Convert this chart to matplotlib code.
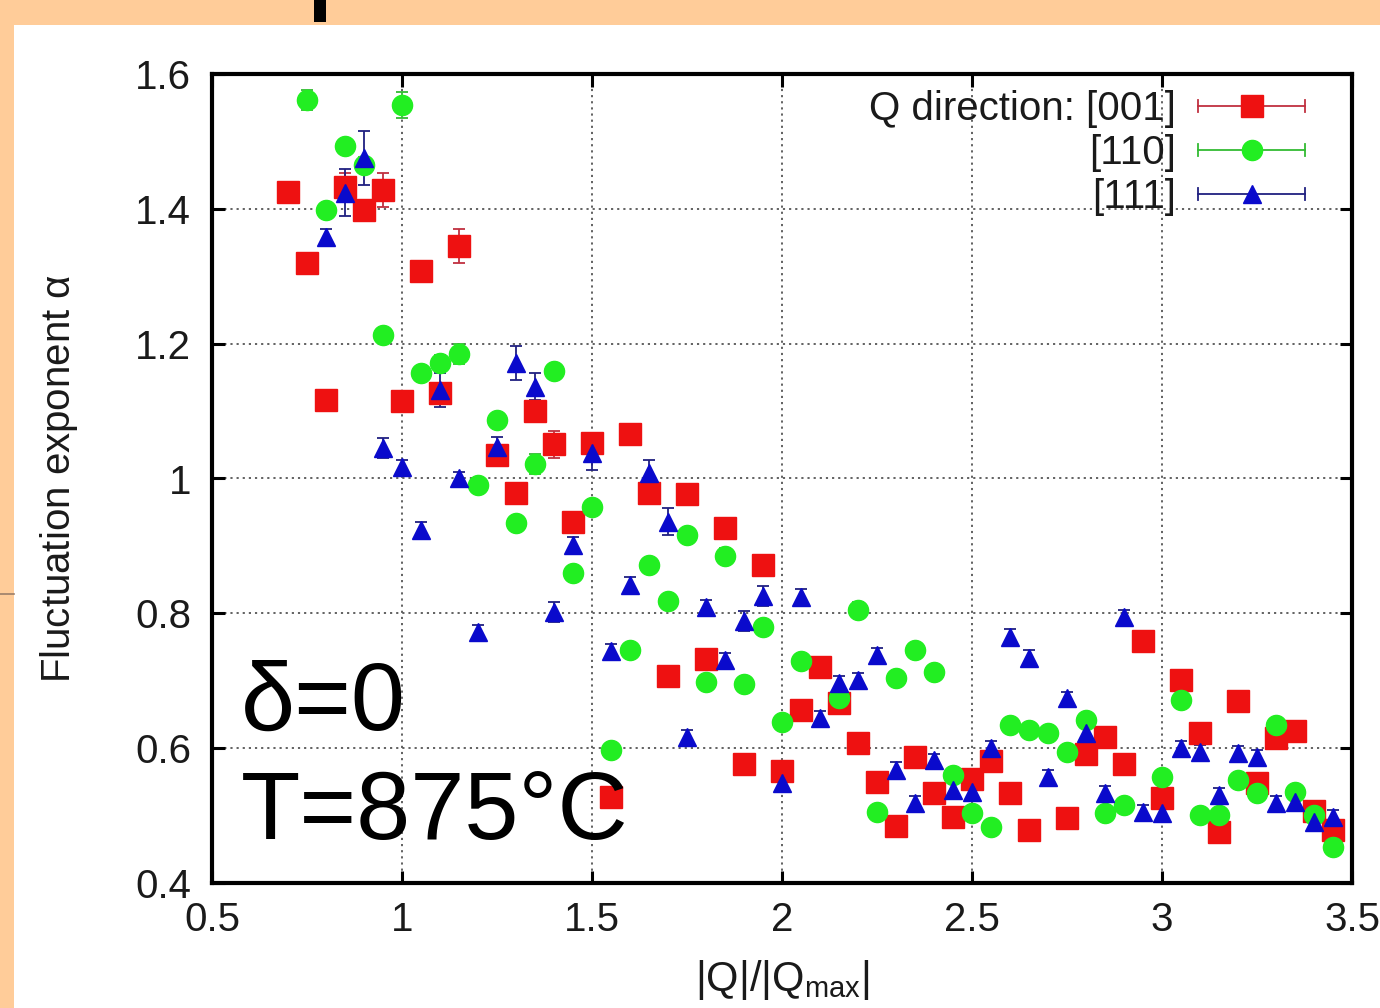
import matplotlib
matplotlib.use("Agg")
import matplotlib.pyplot as plt
from matplotlib.lines import Line2D
from matplotlib.patches import Rectangle
from matplotlib.legend_handler import HandlerBase

plt.rcParams['font.family'] = ['Liberation Sans', 'DejaVu Sans']
plt.rcParams['mathtext.fontset'] = 'custom'
plt.rcParams['mathtext.rm'] = 'Liberation Sans'
plt.rcParams['mathtext.it'] = 'Liberation Sans'

# ---------------- data ----------------
x_001 = [0.70, 0.75, 0.80, 0.85, 0.90, 0.95, 1.00, 1.05, 1.10, 1.15,
         1.25, 1.30, 1.35, 1.40, 1.45, 1.50, 1.55, 1.60, 1.65, 1.70,
         1.75, 1.80, 1.85, 1.90, 1.95, 2.00, 2.05, 2.10, 2.15, 2.20,
         2.25, 2.30, 2.35, 2.40, 2.45, 2.50, 2.55, 2.60, 2.65,
         2.75, 2.80, 2.85, 2.90, 2.95, 3.00, 3.05, 3.10, 3.15, 3.20,
         3.25, 3.30, 3.35, 3.40, 3.45]
y_001 = [1.425, 1.32, 1.117, 1.433, 1.398, 1.428, 1.115, 1.308, 1.127, 1.345,
         1.035, 0.979, 1.10, 1.051, 0.936, 1.053, 0.528, 1.066, 0.979, 0.707,
         0.977, 0.732, 0.927, 0.577, 0.872, 0.566, 0.657, 0.72, 0.667, 0.608,
         0.55, 0.485, 0.587, 0.534, 0.498, 0.554, 0.581, 0.534, 0.479,
         0.496, 0.591, 0.617, 0.577, 0.759, 0.526, 0.701, 0.623, 0.476, 0.67,
         0.548, 0.615, 0.625, 0.507, 0.479]
e_001 = [0.012, 0.010, 0.012, 0.020, 0.012, 0.025, 0.012, 0.015, 0.015, 0.025,
         0.015, 0.012, 0.015, 0.020, 0.012, 0.015, 0.010, 0.012, 0.015, 0.010,
         0.012, 0.012, 0.012, 0.010, 0.012, 0.012, 0.012, 0.012, 0.012, 0.010,
         0.010, 0.010, 0.010, 0.010, 0.010, 0.010, 0.010, 0.010, 0.010,
         0.010, 0.010, 0.010, 0.010, 0.010, 0.010, 0.010, 0.010, 0.010, 0.010,
         0.010, 0.010, 0.010, 0.010, 0.010]

x_110 = [0.75, 0.80, 0.85, 0.90, 0.95, 1.00, 1.05, 1.10, 1.15, 1.20,
         1.25, 1.30, 1.35, 1.40, 1.45, 1.50, 1.55, 1.60, 1.65, 1.70,
         1.75, 1.80, 1.85, 1.90, 1.95, 2.00, 2.05,
         2.15, 2.20, 2.25, 2.30, 2.35, 2.40, 2.45, 2.50, 2.55, 2.60,
         2.65, 2.70, 2.75, 2.80, 2.85, 2.90,
         3.00, 3.05, 3.10, 3.15, 3.20, 3.25, 3.30, 3.35, 3.40, 3.45]
y_110 = [1.562, 1.398, 1.493, 1.465, 1.213, 1.554, 1.157, 1.171, 1.185, 0.991,
         1.087, 0.934, 1.022, 1.16, 0.86, 0.958, 0.597, 0.746, 0.872, 0.818,
         0.916, 0.698, 0.885, 0.695, 0.78, 0.639, 0.73,
         0.675, 0.805, 0.505, 0.704, 0.746, 0.713, 0.56, 0.504, 0.483, 0.634,
         0.627, 0.622, 0.594, 0.642, 0.504, 0.516,
         0.557, 0.671, 0.501, 0.501, 0.553, 0.534, 0.634, 0.535, 0.501, 0.453]
e_110 = [0.015, 0.010, 0.010, 0.012, 0.010, 0.020, 0.010, 0.012, 0.015, 0.010,
         0.010, 0.010, 0.015, 0.010, 0.010, 0.010, 0.008, 0.008, 0.010, 0.008,
         0.010, 0.008, 0.012, 0.008, 0.010, 0.008, 0.008,
         0.008, 0.012, 0.008, 0.008, 0.008, 0.008, 0.008, 0.008, 0.008, 0.008,
         0.008, 0.008, 0.008, 0.008, 0.008, 0.008,
         0.008, 0.008, 0.008, 0.008, 0.008, 0.008, 0.008, 0.008, 0.008, 0.008]

x_111 = [0.80, 0.85, 0.90, 0.95, 1.00, 1.05, 1.10, 1.15, 1.20, 1.25,
         1.30, 1.35, 1.40, 1.45, 1.50, 1.55, 1.60, 1.65, 1.70, 1.75,
         1.80, 1.85, 1.90, 1.95, 2.00, 2.05, 2.10, 2.15, 2.20, 2.25,
         2.30, 2.35, 2.40, 2.45, 2.50, 2.55, 2.60, 2.65, 2.70, 2.75,
         2.80, 2.85, 2.90, 2.95, 3.00, 3.05, 3.10, 3.15, 3.20, 3.25,
         3.30, 3.35, 3.40, 3.45]
y_111 = [1.358, 1.424, 1.476, 1.045, 1.017, 0.924, 1.131, 1.0, 0.772, 1.047,
         1.171, 1.136, 0.802, 0.901, 1.038, 0.744, 0.842, 1.008, 0.936, 0.617,
         0.81, 0.731, 0.789, 0.826, 0.548, 0.824, 0.645, 0.697, 0.701, 0.738,
         0.568, 0.519, 0.582, 0.538, 0.535, 0.6, 0.765, 0.734, 0.557, 0.674,
         0.623, 0.534, 0.795, 0.505, 0.504, 0.6, 0.594, 0.531, 0.593, 0.587,
         0.519, 0.52, 0.49, 0.498]
e_111 = [0.012, 0.035, 0.040, 0.015, 0.010, 0.012, 0.025, 0.010, 0.010, 0.015,
         0.025, 0.020, 0.015, 0.012, 0.025, 0.010, 0.012, 0.020, 0.020, 0.010,
         0.010, 0.010, 0.015, 0.015, 0.012, 0.012, 0.010, 0.010, 0.010, 0.010,
         0.012, 0.010, 0.010, 0.010, 0.010, 0.010, 0.012, 0.012, 0.010, 0.010,
         0.010, 0.010, 0.010, 0.010, 0.010, 0.010, 0.010, 0.010, 0.010, 0.010,
         0.010, 0.010, 0.010, 0.010]

labels = ["Q direction: [001]", "[110]", "[111]"]
x_ticks = [0.5, 1, 1.5, 2, 2.5, 3, 3.5]
x_ticklabels = ["0.5", "1", "1.5", "2", "2.5", "3", "3.5"]
y_ticks = [0.4, 0.6, 0.8, 1.0, 1.2, 1.4, 1.6]
y_ticklabels = ["0.4", "0.6", "0.8", "1", "1.2", "1.4", "1.6"]

# ---------------- style ----------------
series = [
    (x_001, y_001, e_001, 's', 16.0, '#EE1111', '#C03040'),
    (x_110, y_110, e_110, 'o', 14.5, '#22EE22', '#33BB33'),
    (x_111, y_111, e_111, '^', 13.0, '#0A0ACC', '#202080'),
]
FS = 29

fig = plt.figure(figsize=(13.8, 10.08), dpi=100)
fig.patch.set_facecolor('#FFCC99')
fig.patches.append(Rectangle((14 / 1380, 0), 1 - 14 / 1380, 1 - 25 / 1008,
                             transform=fig.transFigure, facecolor='white',
                             edgecolor='none', zorder=-10))
fig.patches.append(Rectangle((314 / 1380, 1 - 22 / 1008), 12 / 1380, 22 / 1008,
                             transform=fig.transFigure, facecolor='black',
                             edgecolor='none', zorder=-9))
fig.lines.append(Line2D([0, 14 / 1380], [1 - 594 / 1008, 1 - 594 / 1008],
                        transform=fig.transFigure, color='#9B7F6A', lw=1.2))

ax = fig.add_axes([212 / 1380, 1 - 883 / 1008, 1140 / 1380, 809 / 1008])
ax.set_facecolor('none')

for (xs, ys, es, mk, ms, c, ec) in series:
    ax.errorbar(xs, ys, yerr=es, fmt=mk, ms=ms, color=c, mec=c, ecolor=ec,
                elinewidth=1.3, capsize=4, capthick=1.3, zorder=3)

ax.set_xlim(0.5, 3.5)
ax.set_ylim(0.4, 1.6)
ax.set_xticks(x_ticks)
ax.set_xticklabels(x_ticklabels)
ax.set_yticks(y_ticks)
ax.set_yticklabels(y_ticklabels)
ax.tick_params(direction='in', length=9, width=2.2, top=True, right=True,
               labelsize=FS, labelcolor='#1a1a1a')
ax.tick_params(axis='y', pad=15)
ax.tick_params(axis='x', pad=13)
for s in ax.spines.values():
    s.set_linewidth(3)
    s.set_zorder(5)
ax.grid(True, color='#555555', linestyle=(0, (1.2, 2.2)), linewidth=1.3, zorder=0)
ax.set_axisbelow(True)

ax.set_ylabel(r'Fluctuation exponent $\alpha$', fontsize=FS, labelpad=40, color='#1a1a1a')
ax.set_xlabel(r'$\mathregular{|Q|/|Q_{max}|}$', fontsize=FS + 1, labelpad=14, color='#1a1a1a')

ax.text(0.025, 0.22, '\u03b4=0', transform=ax.transAxes, fontsize=70,
        ha='left', va='center', color='black', zorder=6)
ax.text(0.025, 0.085, 'T=875\u00b0C', transform=ax.transAxes, fontsize=70,
        ha='left', va='center', color='black', zorder=6)


class HandlerErr(HandlerBase):
    def __init__(self, marker, ms, color, ecolor):
        super().__init__()
        self.marker, self.ms, self.color, self.ecolor = marker, ms, color, ecolor

    def create_artists(self, legend, orig_handle, xdescent, ydescent, width,
                       height, fontsize, trans):
        y = height / 2 - ydescent
        x0 = -xdescent
        x1 = -xdescent + width
        h = 0.22 * height
        arts = [Line2D([x0, x1], [y, y], color=self.ecolor, lw=1.3),
                Line2D([x0, x0], [y - h, y + h], color=self.ecolor, lw=1.3),
                Line2D([x1, x1], [y - h, y + h], color=self.ecolor, lw=1.3),
                Line2D([(x0 + x1) / 2], [y], marker=self.marker, ms=self.ms,
                       color=self.color, linestyle='none')]
        for a in arts:
            a.set_transform(trans)
        return arts


handles = [Line2D([], []) for _ in series]
hmap = {h: HandlerErr(s[3], s[4], s[5], s[6]) for h, s in zip(handles, series)}
leg = ax.legend(handles, labels, handler_map=hmap, loc='upper right',
                bbox_to_anchor=(1093 / 1140, 1 - 16 / 809), borderaxespad=0,
                borderpad=0, frameon=False, markerfirst=False, fontsize=FS,
                handlelength=2.65, handletextpad=0.55, labelspacing=0.15)
for t in leg.get_texts():
    t.set_color('#1a1a1a')

fig.savefig('out.png', dpi=100, facecolor=fig.get_facecolor())
